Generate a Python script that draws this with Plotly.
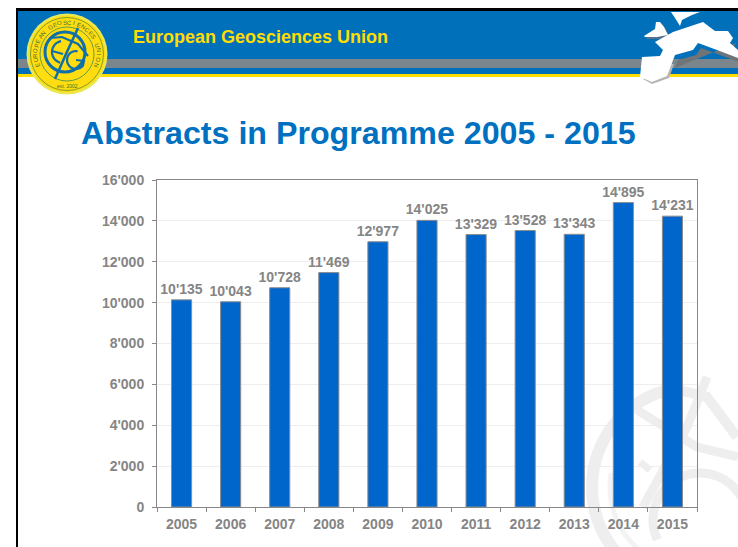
import math
import plotly.graph_objects as go

years = ["2005","2006","2007","2008","2009","2010","2011","2012","2013","2014","2015"]
abstracts = [10135,10043,10728,11469,12977,14025,13329,13528,13343,14895,14231]
y_ticks = [0,2000,4000,6000,8000,10000,12000,14000,16000]
header_text = "European Geosciences Union"
title_text = "Abstracts in Programme 2005 - 2015"
logo_text = "EUROPEAN GEOSCIENCES UNION"

W, H = 738, 547
L, R, T, B = 157, 697, 180, 507
def px(x): return (x - L) / (R - L)
def py(y): return (B - y) / (B - T)
def rect(x0, y0, x1, y1, color, layer="below"):
    return dict(type="rect", xref="paper", yref="paper", x0=px(x0), x1=px(x1), y0=py(y0), y1=py(y1),
                fillcolor=color, line_width=0, layer=layer)
def circle(cx, cy, r, fill="rgba(0,0,0,0)", line=None, lw=0, layer="below"):
    return dict(type="circle", xref="paper", yref="paper", x0=px(cx-r), x1=px(cx+r), y0=py(cy+r), y1=py(cy-r),
                fillcolor=fill, line=dict(color=line or "rgba(0,0,0,0)", width=lw), layer=layer)
def path(points, fill="rgba(0,0,0,0)", line=None, lw=0, closed=True, layer="below"):
    d = "M" + " L".join(f"{px(x):.5f},{py(y):.5f}" for x, y in points) + (" Z" if closed else "")
    return dict(type="path", xref="paper", yref="paper", path=d, fillcolor=fill,
                line=dict(color=line or "rgba(0,0,0,0)", width=lw), layer=layer)
def arc(cx, cy, r, a0, a1, n=40):
    return [(cx + r*math.cos(math.radians(a0+(a1-a0)*i/n)), cy - r*math.sin(math.radians(a0+(a1-a0)*i/n))) for i in range(n+1)]

shapes = []
# watermark
WM = "#eeeeee"
wx, wy = 692, 487
shapes += [path(arc(wx, wy, 100, 100, 300), line=WM, lw=12, closed=False),
           path([(675,389),(707,397),(737,437)], line=WM, lw=10, closed=False),
           path(arc(wx, wy, 82, 170, 285), line="#f3f3f3", lw=5, closed=False),
           path([(707,377),(687,427),(643,507)], line=WM, lw=9, closed=False),
           path([(637,410),(697,447),(738,457)], line=WM, lw=9, closed=False),
           path([(640,462),(650,470)], line=WM, lw=7, closed=False),
           path(arc(700, 520, 47, 30, 205), line=WM, lw=9, closed=False)]
# header
shapes += [rect(16,8,738,11,"#000000"), rect(16,8,18,547,"#000000"),
           rect(18,11,738,59,"#0070bb"), rect(18,59,738,68,"#7b868c"),
           rect(18,68,738,74,"#0070bb"), rect(18,74,738,77,"#ffdd00")]
# europe
main = [(642,57),(640,77),(652,82),(667,76),(672,63),(675,55),(693,50),(698,43),(717,50),(738,58),(738,50),
        (730,43),(733,38),(728,31),(715,31),(703,22),(673,32),(655,42),(663,50),(660,56)]
shadow = [(x+3, y+5) for x, y in main[4:13]]
spain_shadow = [(643,79),(652,84),(669,78),(674,64),(670,64)]
uk = [(644,36),(655,29),(656,22),(660,22),(664,27),(668,35),(657,37),(645,37)]
scand = [(671,12),(700,12),(692,15),(682,20),(680,26),(675,18)]
shapes += [path(shadow, "#6f7478"), path(spain_shadow, "#b5b5b5"), path([(x+2,y+2) for x,y in uk], "#55718a"),
           path(main, "#ffffff"), path(uk, "#ffffff"), path(scand, "#ffffff")]
# logo
cx, cy = 67, 54
LB = "#0f6fa8"
shapes += [circle(cx, cy, 40.5, "#e9e85a"), circle(cx, cy, 38.5, "#ffdd11"),
           circle(cx, cy, 36.5, line="#5f8f30", lw=0.8), circle(cx, cy, 27, line="#3f8a50", lw=0.8),
           circle(cx-2, cy-2, 20, line=LB, lw=3),
           path([(55,79),(66,54),(78,28)], line=LB, lw=2.5, closed=False),
           path([(50,38),(62,37),(78,44),(88,56)], line=LB, lw=2.2, closed=False),
           path(arc(63, 52, 11, 100, 255, 16), line=LB, lw=2.2, closed=False),
           path([(52,51),(63,54)], line=LB, lw=2.2, closed=False),
           path(arc(76, 60, 9, 80, 320, 20) + [(84,61),(76,60)], line=LB, lw=2.2, closed=False)]

annotations = [
    dict(text=header_text, x=px(131), y=py(37), xref="paper", yref="paper", xanchor="left", yanchor="middle",
         showarrow=False, font=dict(family="Liberation Sans", size=18, color="#ffdd00", weight="bold")),
    dict(text=title_text, x=px(79), y=py(133), xref="paper", yref="paper", xanchor="left", yanchor="middle",
         showarrow=False, font=dict(family="Liberation Sans", size=32.2, color="#0070c0", weight="bold")),
    dict(text="est. 2002", x=px(cx), y=py(86), xref="paper", yref="paper", xanchor="center", yanchor="middle", showarrow=False,
         font=dict(family="Liberation Sans", size=5, color="#3f6f30")),
]
n = len(logo_text)
for i, ch in enumerate(logo_text):
    a = 200 - 220 * i / (n - 1)
    annotations.append(dict(text=ch, x=px(cx + 31.5*math.cos(math.radians(a))), y=py(cy - 31.5*math.sin(math.radians(a))),
        xref="paper", yref="paper", xanchor="center", yanchor="middle", showarrow=False, textangle=90 - a,
        font=dict(family="Liberation Sans", size=6, color="#3f6f30")))

GREY = "#858585"
fig = go.Figure(go.Bar(x=years, y=abstracts, width=0.41,
    marker=dict(color="#0066cc", line=dict(color="#8c8c8c", width=1)),
    texttemplate="%{y:,d}", textposition="outside", cliponaxis=False, constraintext="none",
    textfont=dict(family="Liberation Sans", size=14, color=GREY, weight="bold")))
fig.update_layout(width=W, height=H, margin=dict(l=L, r=W-R, t=T, b=H-B, pad=0, autoexpand=False),
    paper_bgcolor="#ffffff", plot_bgcolor="rgba(0,0,0,0)", separators=".'", showlegend=False,
    shapes=shapes, annotations=annotations,
    xaxis=dict(type="category", range=[-0.5,10.5], tickson="boundaries", ticks="outside", ticklen=4, tickcolor="#888888",
               showline=True, linecolor="#888888", linewidth=1, mirror=True, showgrid=False, ticklabelstandoff=4,
               tickfont=dict(family="Liberation Sans", size=14, color=GREY, weight="bold")),
    yaxis=dict(range=[0,16000], tickvals=y_ticks, tickformat=",d", ticks="outside", ticklen=4, tickcolor="#888888",
               showline=True, linecolor="#888888", linewidth=1, mirror=True, showgrid=True, gridcolor="#eeeeee", zeroline=False, ticklabelstandoff=5,
               tickfont=dict(family="Liberation Sans", size=14, color=GREY, weight="bold")))
fig.write_html("out.html", config={"displayModeBar": False},
    post_script="document.body.style.margin='0';document.documentElement.style.overflow='hidden';")
